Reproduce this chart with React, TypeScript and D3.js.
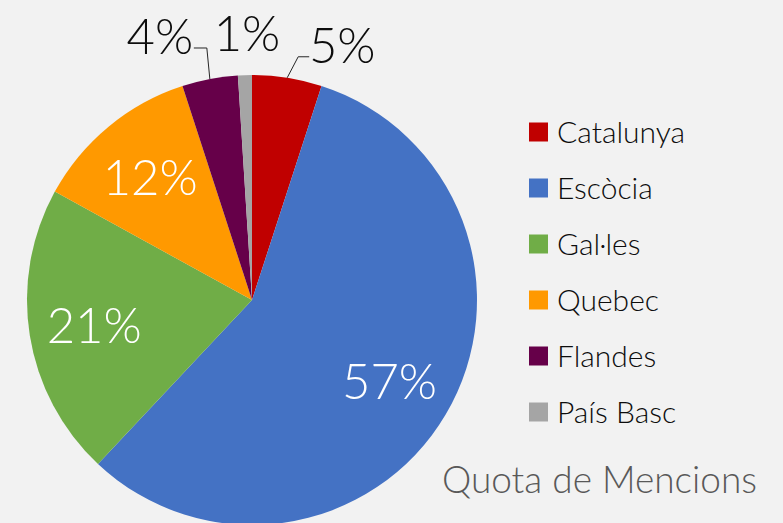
import { pie, arc, PieArcDatum } from "d3";

const categories = ["Catalunya", "Escòcia", "Gal·les", "Quebec", "Flandes", "País Basc"];
const values = [5, 57, 21, 12, 4, 1];
const colors = ["#c00000", "#4472c4", "#70ad47", "#ff9900", "#660049", "#a5a5a5"];
// label placement per slice: inside or outside (with optional leader elbow offset)
const labelInside = [false, true, true, true, false, false];
const title = "Quota de Mencions";

const W = 783;
const H = 523;
const cx = 252;
const cy = 300;
const R = 225;
const FONT = "Lato, 'Open Sans', sans-serif";

// offsets for outer labels: [elbow dx, elbow dy, end dx, text dx, text dy] relative to slice edge point
const outerOffsets: Record<number, number[]> = {
  0: [11, -21, 11, 33, 6],
  4: [-3, -31, -13, -34, 6],
  5: [0, 0, 0, 2, -24],
};

export default function App() {
  const pieGen = pie<number>().sort(null).value((d) => d);
  const arcs = pieGen(values);
  const arcGen = arc<PieArcDatum<number>>().innerRadius(0).outerRadius(R);
  const inner = arc<PieArcDatum<number>>().innerRadius(R * 0.71).outerRadius(R * 0.71);
  const edge = arc<PieArcDatum<number>>().innerRadius(R).outerRadius(R);

  return (
    <svg
      width={W}
      height={H}
      style={{ position: "absolute", left: 0, top: 0, background: "#f2f2f2", fontFamily: FONT }}
    >
      <rect width={W} height={H} fill="#f2f2f2" />
      <g transform={`translate(${cx},${cy})`}>
        {arcs.map((a, i) => (
          <path key={i} d={arcGen(a) ?? ""} fill={colors[i]} />
        ))}
        {arcs.map((a, i) => {
          const pct = `${values[i]}%`;
          if (labelInside[i]) {
            const [x, y] = inner.centroid(a);
            return (
              <text
                key={i}
                x={x}
                y={y}
                dy="0.36em"
                textAnchor="middle"
                fill="#ffffff"
                fontSize={49}
                fontWeight={300}
              >
                {pct}
              </text>
            );
          }
          const [ex, ey] = edge.centroid(a);
          const [bx, by, endDx, tdx, tdy] = outerOffsets[i];
          const elx = ex + bx;
          const ely = ey + by;
          const hasLine = bx !== 0 || by !== 0;
          return (
            <g key={i}>
              {hasLine && (
                <polyline
                  points={`${ex},${ey} ${elx},${ely} ${elx + endDx},${ely}`}
                  fill="none"
                  stroke="#262626"
                  strokeWidth={1}
                />
              )}
              <text
                x={hasLine ? elx + endDx + tdx : ex + tdx}
                y={(hasLine ? ely : ey) + tdy}
                textAnchor="middle"
                fill="#0d0d0d"
                fontSize={49}
                fontWeight={300}
              >
                {pct}
              </text>
            </g>
          );
        })}
      </g>
      <g transform="translate(529,132)">
        {categories.map((c, i) => (
          <g key={c} transform={`translate(0,${i * 56})`}>
            <rect x={0} y={-9.5} width={19} height={19} fill={colors[i]} />
            <text x={28} y={0} dy="0.36em" fontSize={30} fontWeight={300} fill="#0d0d0d">
              {c}
            </text>
          </g>
        ))}
      </g>
      <text x={442} y={493} fontSize={37} fontWeight={300} fill="#595959">
        {title}
      </text>
    </svg>
  );
}
